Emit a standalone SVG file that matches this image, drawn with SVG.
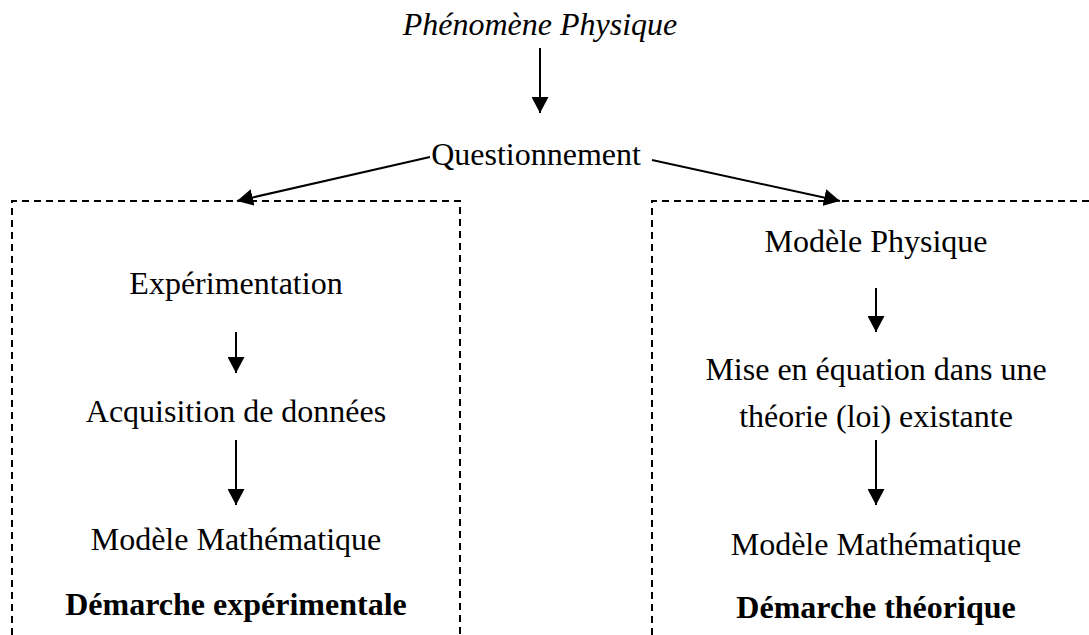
<svg xmlns="http://www.w3.org/2000/svg" width="1089" height="635" viewBox="0 0 1089 635">
<style>
text{font-family:"Liberation Serif","Times New Roman",serif;font-size:32px;fill:#000;text-anchor:middle}
.it{font-style:italic}
.b{font-weight:bold}
.c{stroke:#000;stroke-width:2;fill:none;marker-end:url(#ah)}
.box{stroke:#000;stroke-width:2;fill:none;stroke-dasharray:7 5}
</style>
<defs>
<marker id="ah" markerUnits="userSpaceOnUse" markerWidth="17" markerHeight="17" viewBox="0 0 17 17" refX="16" refY="8.5" orient="auto">
<path d="M0,0 L16,8.5 L0,17 Z" fill="#000"/>
</marker>
</defs>
<g id="boxes">
<path class="box" d="M12,635 V201 H460 V635"/>
<path class="box" d="M652,635 V201 H1089"/>
</g>
<g id="connectors">
<line class="c" x1="540" y1="48" x2="540" y2="113"/>
<line class="c" x1="430" y1="157" x2="237" y2="201"/>
<line class="c" x1="652" y1="160" x2="840" y2="201"/>
<line class="c" x1="236" y1="332" x2="236" y2="373"/>
<line class="c" x1="236" y1="440" x2="236" y2="505"/>
<line class="c" x1="876" y1="288" x2="876" y2="332"/>
<line class="c" x1="876" y1="440" x2="876" y2="505"/>
</g>
<g id="phenomene"><text class="it" x="540" y="35">Phénomène Physique</text></g>
<g id="questionnement"><text x="536" y="165">Questionnement</text></g>
<g id="experimentation"><text x="236" y="294">Expérimentation</text></g>
<g id="acquisition"><text x="236" y="422">Acquisition de données</text></g>
<g id="modele-math-left"><text x="236" y="550">Modèle Mathématique</text></g>
<g id="demarche-exp"><text class="b" x="236" y="615">Démarche expérimentale</text></g>
<g id="modele-physique"><text x="876" y="252">Modèle Physique</text></g>
<g id="mise-en-equation"><text x="876" y="380">Mise en équation dans une</text><text x="876" y="427">théorie (loi) existante</text></g>
<g id="modele-math-right"><text x="876" y="555">Modèle Mathématique</text></g>
<g id="demarche-theo"><text class="b" x="876" y="618">Démarche théorique</text></g>
</svg>
